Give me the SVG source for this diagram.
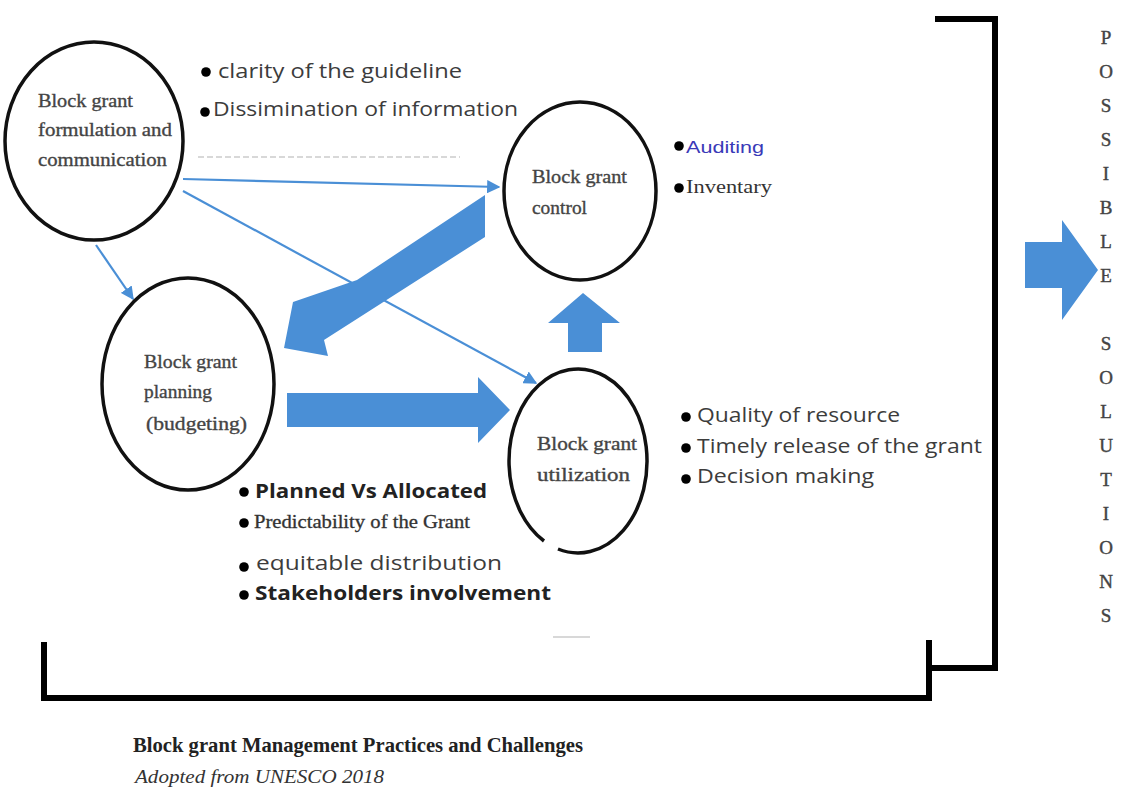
<svg xmlns="http://www.w3.org/2000/svg" width="1138" height="794" viewBox="0 0 1138 794">
  <style>
    .node { fill: none; stroke: #111; stroke-width: 3.5; }
    .lbl { font-family: "Liberation Serif", "DejaVu Serif", serif; font-size: 19px; fill: #444; stroke: #444; stroke-width: 0.35; }
    .item { font-family: "Open Sans", "Noto Sans", sans-serif; font-size: 20px; fill: #3c3c3c; }
    .itemb { font-family: "Open Sans", "Noto Sans", sans-serif; font-size: 19px; fill: #222; font-weight: bold; }
    .items { font-family: "Liberation Serif", "DejaVu Serif", serif; font-size: 18px; fill: #333; }
    .dot { fill: #000; }
    .thin { fill: none; stroke: #4a8fd6; stroke-width: 2.2; }
    .block { fill: #4a8fd6; }
    .frame { fill: none; stroke: #000; stroke-width: 6; stroke-linejoin: miter; }
    .vert { font-family: "Liberation Serif", "DejaVu Serif", serif; font-size: 19px; fill: #444; stroke: #444; stroke-width: 0.4; text-anchor: middle; }
    .faint { stroke: #d8d8d8; stroke-width: 2; fill: none; }
  </style>
  <defs>
    <marker id="head" viewBox="0 0 10 10" refX="9" refY="5" markerWidth="6" markerHeight="6" orient="auto" markerUnits="strokeWidth">
      <path d="M0,0 L10,5 L0,10 z" fill="#4a8fd6"/>
    </marker>
  </defs>

  <rect width="1138" height="794" fill="#fff"/>

  <!-- frame brackets -->
  <g id="frame">
    <polyline class="frame" points="935,19 995,19 995,668 932,668"/>
    <polyline class="frame" points="44,642 44,698 929,698 929,640"/>
    <line class="faint" x1="198" y1="157" x2="460" y2="157" stroke-dasharray="6 3"/>
    <line class="faint" x1="553" y1="637" x2="590" y2="637"/>
  </g>

  <!-- connectors -->
  <g id="connectors">
    <line class="thin" x1="183" y1="179" x2="499" y2="187" marker-end="url(#head)"/>
    <line class="thin" x1="183" y1="191" x2="536" y2="383" marker-end="url(#head)"/>
    <line class="thin" x1="96" y1="245" x2="133" y2="299" marker-end="url(#head)"/>
    <!-- control back to planning -->
    <polygon class="block" points="485,195 357,280 293,302 284,348 328,356 324,340 485,237"/>
    <!-- planning to utilization -->
    <polygon class="block" points="287,393 478,393 478,377 510,410 478,443 478,427 287,427"/>
    <!-- utilization to control -->
    <polygon class="block" points="568,352 568,323 548,323 583,293 620,323 602,323 602,352"/>
    <!-- towards solutions -->
    <polygon class="block" points="1025,242 1062,242 1062,220 1098,270 1062,320 1062,288 1025,288"/>
  </g>

  <!-- formulation and communication -->
  <g id="formulation">
    <ellipse class="node" cx="94" cy="141" rx="89" ry="99"/>
    <text class="lbl" x="38" y="107" textLength="95" lengthAdjust="spacingAndGlyphs">Block grant</text>
    <text class="lbl" x="38" y="136" textLength="134" lengthAdjust="spacingAndGlyphs">formulation and</text>
    <text class="lbl" x="38" y="166" textLength="129" lengthAdjust="spacingAndGlyphs">communication</text>
    <circle class="dot" cx="206" cy="72" r="4.8"/>
    <text class="item" x="218" y="78" textLength="244" lengthAdjust="spacingAndGlyphs">clarity of the guideline</text>
    <circle class="dot" cx="205" cy="112" r="4.8"/>
    <text class="item" x="213" y="116" textLength="305" lengthAdjust="spacingAndGlyphs">Dissimination of information</text>
  </g>

  <!-- control -->
  <g id="control">
    <ellipse class="node" cx="580" cy="191" rx="76" ry="89"/>
    <text class="lbl" x="532" y="183" textLength="95" lengthAdjust="spacingAndGlyphs">Block grant</text>
    <text class="lbl" x="532" y="214" textLength="55" lengthAdjust="spacingAndGlyphs">control</text>
    <circle class="dot" cx="679" cy="146" r="4.8"/>
    <text x="686" y="153" font-family="Liberation Sans, Arial, sans-serif" font-size="17" fill="#3a3ab8" textLength="78" lengthAdjust="spacingAndGlyphs">Auditing</text>
    <circle class="dot" cx="679" cy="188" r="4.8"/>
    <text class="items" x="686" y="193" textLength="86" lengthAdjust="spacingAndGlyphs">Inventary</text>
  </g>

  <!-- planning -->
  <g id="planning">
    <ellipse class="node" cx="188" cy="384" rx="86" ry="106"/>
    <text class="lbl" x="144" y="368" textLength="93" lengthAdjust="spacingAndGlyphs">Block grant</text>
    <text class="lbl" x="144" y="398" textLength="68" lengthAdjust="spacingAndGlyphs">planning</text>
    <text class="lbl" x="146" y="430" textLength="101" lengthAdjust="spacingAndGlyphs">(budgeting)</text>
    <circle class="dot" cx="244" cy="492" r="4.8"/>
    <text class="itemb" x="255" y="498" textLength="232" lengthAdjust="spacingAndGlyphs">Planned Vs Allocated</text>
    <circle class="dot" cx="244" cy="523" r="4.8"/>
    <text class="items" x="254" y="528" textLength="216" lengthAdjust="spacingAndGlyphs" stroke="#333" stroke-width="0.3">Predictability of the Grant</text>
    <circle class="dot" cx="244" cy="567" r="4.8"/>
    <text class="item" x="256" y="570" textLength="246" lengthAdjust="spacingAndGlyphs">equitable distribution</text>
    <circle class="dot" cx="244" cy="595" r="4.8"/>
    <text class="itemb" x="255" y="600" textLength="296" lengthAdjust="spacingAndGlyphs">Stakeholders involvement</text>
  </g>

  <!-- utilization -->
  <g id="utilization">
    <path class="node" d="M544,541 A69,92 0 1 1 558,549"/>
    <text class="lbl" x="537" y="450" textLength="100" lengthAdjust="spacingAndGlyphs">Block grant</text>
    <text class="lbl" x="537" y="481" textLength="93" lengthAdjust="spacingAndGlyphs">utilization</text>
    <circle class="dot" cx="686" cy="417" r="4.8"/>
    <text class="item" x="697" y="422" textLength="203" lengthAdjust="spacingAndGlyphs">Quality of resource</text>
    <circle class="dot" cx="686" cy="448" r="4.8"/>
    <text class="item" x="697" y="453" textLength="285" lengthAdjust="spacingAndGlyphs">Timely release of the grant</text>
    <circle class="dot" cx="686" cy="479" r="4.8"/>
    <text class="item" x="697" y="483" textLength="177" lengthAdjust="spacingAndGlyphs">Decision making</text>
  </g>

  <!-- vertical heading, one letter per line -->
  <g id="solutions">
    <text class="vert" x="1106" y="44">P</text>
    <text class="vert" x="1106" y="78">O</text>
    <text class="vert" x="1106" y="112">S</text>
    <text class="vert" x="1106" y="146">S</text>
    <text class="vert" x="1106" y="180">I</text>
    <text class="vert" x="1106" y="214">B</text>
    <text class="vert" x="1106" y="248">L</text>
    <text class="vert" x="1106" y="282">E</text>
    <text class="vert" x="1106" y="350">S</text>
    <text class="vert" x="1106" y="384">O</text>
    <text class="vert" x="1106" y="418">L</text>
    <text class="vert" x="1106" y="452">U</text>
    <text class="vert" x="1106" y="486">T</text>
    <text class="vert" x="1106" y="520">I</text>
    <text class="vert" x="1106" y="554">O</text>
    <text class="vert" x="1106" y="588">N</text>
    <text class="vert" x="1106" y="622">S</text>
  </g>

  <!-- caption -->
  <g id="caption">
    <text x="133" y="752" font-family="Liberation Serif, serif" font-size="21" font-weight="bold" fill="#222" textLength="450" lengthAdjust="spacingAndGlyphs">Block grant Management Practices and Challenges</text>
    <text x="135" y="783" font-family="Liberation Serif, serif" font-size="19" font-style="italic" fill="#333" textLength="249" lengthAdjust="spacingAndGlyphs">Adopted from UNESCO 2018</text>
  </g>
</svg>
